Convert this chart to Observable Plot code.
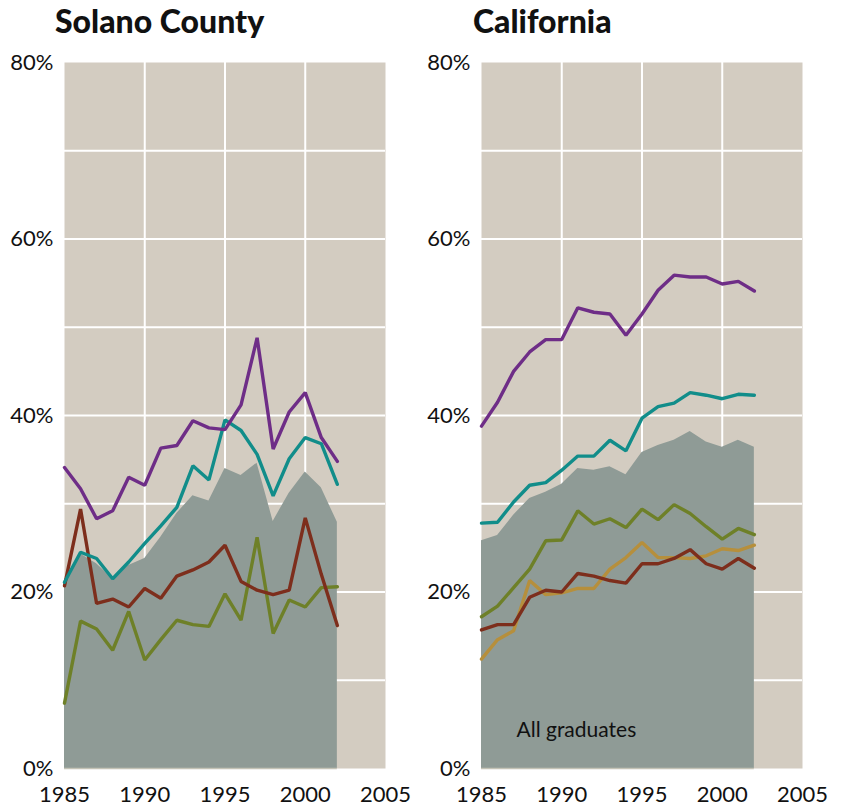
<!DOCTYPE html>
<html>
<head>
<meta charset="utf-8">
<script src="https://cdn.jsdelivr.net/npm/d3@7"></script>
<script src="https://cdn.jsdelivr.net/npm/@observablehq/plot@0.6"></script>
<style>
  body { margin: 0; background: #ffffff; }
  #wrap { position: relative; width: 841px; height: 810px; overflow: hidden; }
  .panel { position: absolute; top: 0; width: 420px; }
  .panel .title { box-sizing: border-box; height: 50px; padding-top: 5px; font-family: Lato, "Open Sans", sans-serif; font-weight: 900; font-size: 32px; line-height: 32px; color: #111; white-space: nowrap; }
  .panel svg { display: block; }
</style>
</head>
<body>
<div id="wrap"></div>
<script>
// ---------- data ----------
const years = [1985,1986,1987,1988,1989,1990,1991,1992,1993,1994,1995,1996,1997,1998,1999,2000,2001,2002];

// Solano County (percent)
const solanoAll    = [20.8,24.3,23.2,21.5,23.0,23.8,26.2,28.9,30.9,30.3,34.0,33.2,34.6,28.0,31.2,33.6,31.8,27.9];
const solanoPurple = [34.1,31.7,28.3,29.2,33.0,32.1,36.3,36.6,39.4,38.6,38.4,41.2,48.8,36.2,40.4,42.6,37.5,34.8];
const solanoTeal   = [21.1,24.5,23.8,21.5,23.4,25.5,27.5,29.6,34.3,32.7,39.5,38.3,35.6,30.9,35.1,37.5,36.8,32.2];
const solanoBrown  = [20.7,29.4,18.7,19.2,18.3,20.4,19.3,21.8,22.5,23.4,25.3,21.2,20.2,19.7,20.2,28.4,22.0,16.2];
const solanoGreen  = [7.4,16.7,15.8,13.4,17.8,12.3,14.6,16.8,16.3,16.1,19.8,16.8,26.2,15.3,19.1,18.3,20.5,20.6];

// California (percent)
const caAll    = [25.8,26.4,28.7,30.6,31.3,32.2,34.0,33.8,34.2,33.3,35.8,36.6,37.2,38.2,37.0,36.4,37.2,36.4];
const caPurple = [38.8,41.5,45.0,47.2,48.6,48.6,52.2,51.7,51.5,49.1,51.5,54.2,55.9,55.7,55.7,54.9,55.2,54.1];
const caTeal   = [27.8,27.9,30.2,32.1,32.4,33.8,35.4,35.4,37.2,36.0,39.7,41.0,41.4,42.6,42.3,41.9,42.4,42.3];
const caGreen  = [17.2,18.4,20.5,22.6,25.8,25.9,29.2,27.7,28.3,27.3,29.4,28.2,29.9,28.9,27.4,26.0,27.2,26.5];
const caGold   = [12.4,14.6,15.6,21.3,19.7,19.9,20.4,20.4,22.6,23.9,25.6,23.9,23.9,23.8,24.1,24.9,24.7,25.3];
const caBrown  = [15.7,16.3,16.3,19.4,20.2,20.0,22.1,21.8,21.3,21.0,23.2,23.2,23.8,24.8,23.2,22.6,23.8,22.7];

// ticks and labels
const xTicks = [1985,1990,1995,2000,2005];
const xGrid  = [1990,1995,2000];
const yTicks = [0,20,40,60,80];
const yGrid  = [10,20,30,40,50,60,70];
const titles = ["Solano County","California"];
const areaLabel = "All graduates";

// ---------- styles ----------
const C = {
  bg: "#d3ccc1", area: "#8f9b96", grid: "#ffffff",
  purple: "#6e2d87", teal: "#118d8a", green: "#6e8028", brown: "#7d2e1c", gold: "#b68f3c"
};

function rowsOf(arr) { return years.map((yr, i) => ({year: yr, v: arr[i]})); }

function panel(title, all, series, opts) {
  const marks = [
    Plot.frame({fill: C.bg, stroke: null}),
    Plot.ruleY(yGrid, {stroke: C.grid, strokeWidth: 2}),
    Plot.ruleX(xGrid, {stroke: C.grid, strokeWidth: 2}),
    Plot.areaY(rowsOf(all), {x: "year", y: "v", fill: C.area}),
    Plot.ruleY([0], {x1: years[0], x2: years[years.length - 1], stroke: "#c4c3b6", strokeWidth: 1.5})
  ];
  for (const s of series) {
    marks.push(Plot.line(rowsOf(s.data), {x: "year", y: "v", stroke: s.color, strokeWidth: 3.4, strokeLinejoin: "miter"}));
  }
  if (opts.label) {
    marks.push(Plot.text([areaLabel], {frameAnchor: "bottom-left", dx: 35, dy: -38, lineAnchor: "middle", textAnchor: "start", fontSize: 21, fill: "#111"}));
  }
  const svg = Plot.plot({
    width: 420, height: 760,
    marginTop: 12, marginBottom: 42, marginLeft: opts.ml, marginRight: 420 - opts.ml - 321,
    x: {domain: [1985, 2005], ticks: xTicks, tickFormat: d => String(d), tickSize: 0, tickPadding: 18, label: null},
    y: {domain: [0, 80], ticks: yTicks, tickFormat: d => d + "%", tickSize: 0, tickPadding: 11, label: null},
    style: {fontFamily: "Lato, 'Open Sans', sans-serif", fontSize: "22px", color: "#111", background: "transparent", overflow: "visible"},
    marks
  });
  const div = document.createElement("div");
  div.className = "panel";
  div.style.left = opts.left + "px";
  const t = document.createElement("div");
  t.className = "title";
  t.style.paddingLeft = opts.tx + "px";
  t.textContent = title;
  div.appendChild(t);
  div.appendChild(svg);
  document.getElementById("wrap").appendChild(div);
}

panel(titles[0], solanoAll, [
  {data: solanoGreen, color: C.green},
  {data: solanoBrown, color: C.brown},
  {data: solanoTeal, color: C.teal},
  {data: solanoPurple, color: C.purple}
], {left: 0, ml: 64, tx: 55, label: false});

panel(titles[1], caAll, [
  {data: caGold, color: C.gold},
  {data: caBrown, color: C.brown},
  {data: caGreen, color: C.green},
  {data: caTeal, color: C.teal},
  {data: caPurple, color: C.purple}
], {left: 420, ml: 61, tx: 53, label: true});
</script>
</body>
</html>
